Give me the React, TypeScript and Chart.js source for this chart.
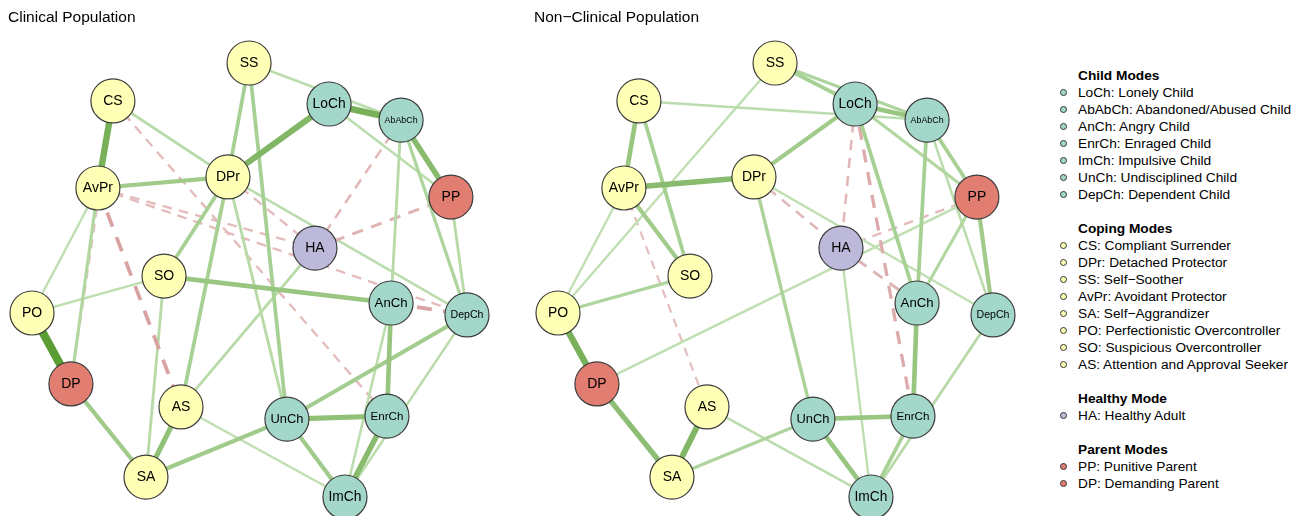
import React, { useEffect, useRef } from 'react';
import { Chart, registerables } from 'chart.js';

Chart.register(...registerables);

const FONT = '"Liberation Sans", Arial, Helvetica, sans-serif';

// ---- Nodes (shared averaged layout, normalised to [-1, 1]) ----
const nodeNames = ['LoCh', 'AbAbCh', 'AnCh', 'EnrCh', 'ImCh', 'UnCh', 'DepCh', 'CS', 'DPr', 'SS', 'AvPr', 'SA', 'PO', 'SO', 'AS', 'HA', 'PP', 'DP'];
const nodeGroups = ['Child', 'Child', 'Child', 'Child', 'Child', 'Child', 'Child', 'Coping', 'Coping', 'Coping', 'Coping', 'Coping', 'Coping', 'Coping', 'Coping', 'Healthy', 'Parent', 'Parent'];
const layoutX = [0.366, 0.697, 0.651, 0.632, 0.439, 0.172, 1.0, -0.628, -0.099, -0.002, -0.697, -0.476, -1.0, -0.393, -0.315, 0.301, 0.926, -0.821];
const layoutY = [0.811, 0.737, -0.106, -0.627, -1.0, -0.641, -0.161, 0.825, 0.475, 1.0, 0.424, -0.908, -0.152, 0.018, -0.585, 0.147, 0.382, -0.479];

// ---- Edges: [from, to, partial correlation] ----
const clinicalEdges: [string, string, number][] = [
  ['PO', 'DP', 0.75], ['CS', 'AvPr', 0.55], ['LoCh', 'DPr', 0.5], ['LoCh', 'AbAbCh', 0.55],
  ['AbAbCh', 'PP', 0.45], ['EnrCh', 'ImCh', 0.45], ['UnCh', 'EnrCh', 0.4], ['SA', 'AS', 0.4],
  ['AnCh', 'EnrCh', 0.35], ['SO', 'AnCh', 0.35], ['SA', 'DP', 0.3], ['AvPr', 'DPr', 0.3],
  ['UnCh', 'ImCh', 0.3], ['UnCh', 'SA', 0.3], ['DepCh', 'UnCh', 0.28], ['SS', 'UnCh', 0.25],
  ['SS', 'DPr', 0.25], ['DPr', 'AS', 0.25], ['DPr', 'SO', 0.25], ['AbAbCh', 'DepCh', 0.2],
  ['AvPr', 'DP', 0.18], ['SO', 'SA', 0.15], ['DPr', 'UnCh', 0.15], ['CS', 'DPr', 0.15],
  ['HA', 'AS', 0.15], ['AbAbCh', 'AnCh', 0.15], ['AnCh', 'ImCh', 0.12], ['DepCh', 'ImCh', 0.12],
  ['PP', 'DepCh', 0.15], ['LoCh', 'PP', 0.12], ['SS', 'AbAbCh', 0.12], ['AvPr', 'PO', 0.1],
  ['SO', 'PO', 0.1], ['DPr', 'DepCh', 0.12], ['AS', 'ImCh', 0.1],
  ['AvPr', 'AS', -0.25], ['AnCh', 'DepCh', -0.25], ['HA', 'PP', -0.15], ['HA', 'AbAbCh', -0.12],
  ['AvPr', 'DepCh', -0.1], ['AvPr', 'HA', -0.1], ['DPr', 'HA', -0.1], ['CS', 'EnrCh', -0.1], ['CS', 'DP', -0.08],
];

const nonClinicalEdges: [string, string, number][] = [
  ['PO', 'DP', 0.55], ['SA', 'AS', 0.5], ['AvPr', 'DPr', 0.45], ['DP', 'SA', 0.42],
  ['CS', 'AvPr', 0.35], ['UnCh', 'ImCh', 0.35], ['AnCh', 'EnrCh', 0.35], ['UnCh', 'EnrCh', 0.35],
  ['AvPr', 'SO', 0.3], ['DPr', 'LoCh', 0.3], ['LoCh', 'AbAbCh', 0.35], ['PP', 'DepCh', 0.3],
  ['AbAbCh', 'PP', 0.25], ['SS', 'LoCh', 0.25], ['SS', 'AbAbCh', 0.2], ['CS', 'SO', 0.25],
  ['LoCh', 'AnCh', 0.25], ['AbAbCh', 'AnCh', 0.25], ['DPr', 'UnCh', 0.22], ['EnrCh', 'ImCh', 0.25],
  ['SA', 'UnCh', 0.2], ['PO', 'SO', 0.2], ['PP', 'AnCh', 0.18], ['LoCh', 'PP', 0.18],
  ['DepCh', 'ImCh', 0.15], ['AbAbCh', 'DepCh', 0.12], ['CS', 'AbAbCh', 0.12], ['SS', 'PO', 0.1],
  ['AvPr', 'PO', 0.1], ['DPr', 'DepCh', 0.1], ['HA', 'ImCh', 0.1], ['PP', 'DP', 0.1], ['AS', 'ImCh', 0.12],
  ['LoCh', 'EnrCh', -0.2], ['LoCh', 'HA', -0.12], ['DPr', 'HA', -0.12], ['HA', 'AnCh', -0.15],
  ['HA', 'PP', -0.1], ['AvPr', 'AS', -0.08],
];

// ---- Legend ----
const childLegend = ['LoCh: Lonely Child', 'AbAbCh: Abandoned/Abused Child', 'AnCh: Angry Child', 'EnrCh: Enraged Child', 'ImCh: Impulsive Child', 'UnCh: Undisciplined Child', 'DepCh: Dependent Child'];
const copingLegend = ['CS: Compliant Surrender', 'DPr: Detached Protector', 'SS: Self\u2212Soother', 'AvPr: Avoidant Protector', 'SA: Self\u2212Aggrandizer', 'PO: Perfectionistic Overcontroller', 'SO: Suspicious Overcontroller', 'AS: Attention and Approval Seeker'];
const healthyLegend = ['HA: Healthy Adult'];
const parentLegend = ['PP: Punitive Parent', 'DP: Demanding Parent'];

const groupColors: Record<string, string> = {
  Child: '#A2D7C9',
  Coping: '#FFFFB5',
  Healthy: '#BDB9DB',
  Parent: '#E27D71',
};

const PANEL_W = 526;
const PANEL_H = 516;

function mix(a: number[], b: number[], t: number) {
  return `rgb(${a.map((v, i) => Math.round(v + (b[i] - v) * t)).join(',')})`;
}

function edgeStyle(w: number) {
  const a = Math.abs(w);
  const width = 1.5 + 9 * a;
  if (w >= 0) {
    const t = Math.min(1, a / 0.8);
    return { color: mix([206, 233, 196], [82, 152, 42], t), width, dash: [] as number[] };
  }
  const t = Math.min(1, a / 0.45);
  return { color: mix([234, 204, 204], [205, 130, 130], t), width, dash: [4 * width, 3 * width] };
}

const nodeLabelPlugin = {
  id: 'nodeLabels',
  afterDatasetsDraw(chart: any) {
    const meta = chart.getDatasetMeta(0);
    const ctx = chart.ctx;
    ctx.save();
    ctx.textAlign = 'center';
    ctx.textBaseline = 'middle';
    ctx.fillStyle = '#000';
    meta.data.forEach((pt: any, i: number) => {
      const label = nodeNames[i];
      ctx.font = `14px ${FONT}`;
      const w = ctx.measureText(label).width;
      const size = Math.min(14, (14 * 33) / w);
      ctx.font = `${size}px ${FONT}`;
      ctx.fillText(label, pt.x, pt.y + 0.5);
    });
    ctx.restore();
  },
};

const panelTitlePlugin = {
  id: 'panelTitle',
  afterDraw(chart: any, _args: any, opts: any) {
    const ctx = chart.ctx;
    ctx.save();
    ctx.font = `15.5px ${FONT}`;
    ctx.fillStyle = '#000';
    ctx.textAlign = 'left';
    ctx.textBaseline = 'middle';
    ctx.fillText(opts.text, 8, 18);
    ctx.restore();
  },
};

function Panel({ title, edges, left }: { title: string; edges: [string, string, number][]; left: number }) {
  const ref = useRef<HTMLCanvasElement>(null);
  useEffect(() => {
    if (!ref.current) return;
    const idx = (n: string) => nodeNames.indexOf(n);
    const nodeData = nodeNames.map((_, i) => ({ x: layoutX[i], y: layoutY[i] }));
    const edgeSets = edges.map(([a, b, w]) => {
      const s = edgeStyle(w);
      return {
        type: 'scatter' as const,
        data: [nodeData[idx(a)], nodeData[idx(b)]],
        showLine: true,
        borderColor: s.color,
        borderWidth: s.width,
        borderDash: s.dash,
        pointRadius: 0,
        pointHoverRadius: 0,
        fill: false,
        clip: false,
        order: 2 - Math.abs(w),
      };
    });
    const chart = new Chart(ref.current, {
      type: 'scatter',
      data: {
        datasets: [
          {
            data: nodeData,
            pointRadius: 22,
            pointHoverRadius: 22,
            backgroundColor: nodeGroups.map((g) => groupColors[g]),
            borderColor: '#3d3d3d',
            borderWidth: 1.2,
            pointHoverBorderWidth: 1.2,
            clip: false,
            order: 0,
          } as any,
          ...edgeSets,
        ],
      },
      options: {
        animation: false,
        responsive: false,
        events: [],
        layout: { padding: 0, autoPadding: false },
        scales: {
          x: { type: 'linear', min: -1.1471, max: 1.2713, display: false },
          y: { type: 'linear', min: -1.0876, max: 1.2903, display: false },
        },
        plugins: {
          legend: { display: false },
          tooltip: { enabled: false },
          title: { display: false },
          panelTitle: { text: title },
        } as any,
      },
      plugins: [nodeLabelPlugin, panelTitlePlugin],
    });
    return () => chart.destroy();
  }, [title, edges]);
  return (
    <canvas
      ref={ref}
      width={PANEL_W}
      height={PANEL_H}
      style={{ position: 'absolute', left, top: 0, width: PANEL_W, height: PANEL_H }}
    />
  );
}

function Legend() {
  const sections = [
    { title: 'Child Modes', group: 'Child', items: childLegend },
    { title: 'Coping Modes', group: 'Coping', items: copingLegend },
    { title: 'Healthy Mode', group: 'Healthy', items: healthyLegend },
    { title: 'Parent Modes', group: 'Parent', items: parentLegend },
  ];
  const lines: { text: string; bold: boolean; color?: string }[] = [];
  sections.forEach((s, si) => {
    if (si > 0) lines.push({ text: '', bold: false });
    lines.push({ text: s.title, bold: true });
    s.items.forEach((t) => lines.push({ text: t, bold: false, color: groupColors[s.group] }));
  });
  const LH = 17;
  const first = 75;
  return (
    <>
      {lines.map((l, k) => {
        if (!l.text) return null;
        const cy = first + LH * k;
        return (
          <div key={k}>
            {l.color && (
              <div
                style={{
                  position: 'absolute',
                  left: 1060,
                  top: cy - 3.5,
                  width: 5,
                  height: 5,
                  borderRadius: '50%',
                  border: '1.3px solid #333',
                  background: l.color,
                }}
              />
            )}
            <div
              style={{
                position: 'absolute',
                left: 1078,
                top: cy - LH / 2,
                height: LH,
                lineHeight: `${LH}px`,
                fontFamily: FONT,
                fontSize: 13.7,
                fontWeight: l.bold ? 700 : 400,
                color: '#000',
                whiteSpace: 'nowrap',
              }}
            >
              {l.text}
            </div>
          </div>
        );
      })}
    </>
  );
}

export default function App() {
  return (
    <div style={{ position: 'absolute', left: 0, top: 0, width: 1304, height: 516, background: '#fff', overflow: 'hidden' }}>
      <Panel title="Clinical Population" edges={clinicalEdges} left={0} />
      <Panel title={'Non\u2212Clinical Population'} edges={nonClinicalEdges} left={PANEL_W} />
      <Legend />
    </div>
  );
}
